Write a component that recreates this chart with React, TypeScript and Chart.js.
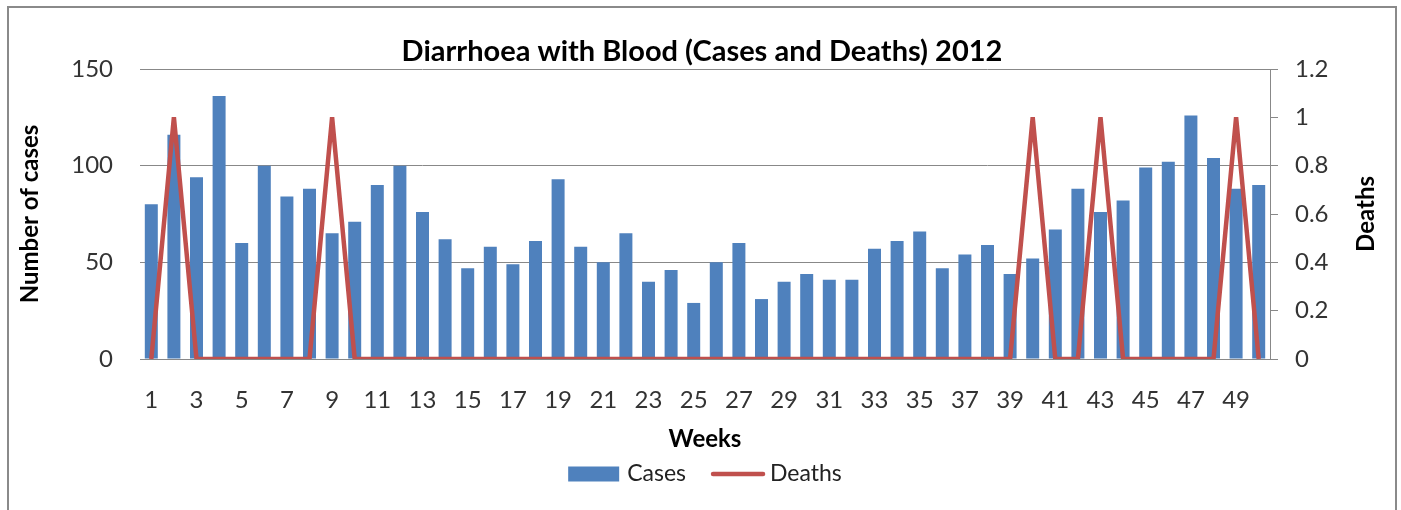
import React, { useEffect, useRef } from "react";
import { Chart, registerables } from "chart.js";

Chart.register(...registerables);

const weeks: string[] = Array.from({ length: 50 }, (_, i) => String(i + 1));

const cases: number[] = [
  80, 116, 94, 136, 60, 100, 84, 88, 65, 71,
  90, 100, 76, 62, 47, 58, 49, 61, 93, 58,
  50, 65, 40, 46, 29, 50, 60, 31, 40, 44,
  41, 41, 57, 61, 66, 47, 54, 59, 44, 52,
  67, 88, 76, 82, 99, 102, 126, 104, 88, 90,
];

const deaths: number[] = [
  0, 1, 0, 0, 0, 0, 0, 0, 1, 0,
  0, 0, 0, 0, 0, 0, 0, 0, 0, 0,
  0, 0, 0, 0, 0, 0, 0, 0, 0, 0,
  0, 0, 0, 0, 0, 0, 0, 0, 0, 1,
  0, 0, 1, 0, 0, 0, 0, 0, 1, 0,
];

const leftTicks = { min: 0, max: 150, step: 50 };
const rightTicks = { min: 0, max: 1.2, step: 0.2 };

const TITLE = "Diarrhoea with Blood (Cases and Deaths) 2012";
const FONT = "Lato, 'Noto Sans', sans-serif";
const BLUE = "#4F81BD";
const RED = "#C0504D";
const GRID = "#888888";
const TICK = "#333333";

const extrasPlugin = {
  id: "extras",
  afterDraw(chart: any) {
    const { ctx, chartArea } = chart;
    ctx.save();
    // right axis title, rotated -90
    ctx.fillStyle = "#000";
    ctx.font = `bold 24px ${FONT}`;
    ctx.textAlign = "center";
    ctx.textBaseline = "middle";
    ctx.translate(1357, (chartArea.top + chartArea.bottom) / 2);
    ctx.rotate(-Math.PI / 2);
    ctx.fillText(chart.data.datasets[1].label, 0, 0);
    ctx.restore();

    // legend
    ctx.save();
    ctx.font = `23px ${FONT}`;
    ctx.textBaseline = "middle";
    ctx.textAlign = "left";
    const l1 = chart.data.datasets[0].label;
    const l2 = chart.data.datasets[1].label;
    const w1 = ctx.measureText(l1).width;
    const w2 = ctx.measureText(l2).width;
    const total = 51 + 8 + w1 + 25 + 54 + 5 + w2;
    const cy = 466;
    let x = (chartArea.left + chartArea.right) / 2 - total / 2;
    ctx.fillStyle = BLUE;
    ctx.fillRect(x, cy - 7.5, 51, 15);
    x += 51 + 8;
    ctx.fillStyle = "#222";
    ctx.fillText(l1, x, cy);
    x += w1 + 25;
    ctx.strokeStyle = RED;
    ctx.lineWidth = 4.5;
    ctx.lineCap = "round";
    ctx.beginPath();
    ctx.moveTo(x + 2, cy);
    ctx.lineTo(x + 52, cy);
    ctx.stroke();
    x += 54 + 5;
    ctx.fillStyle = "#222";
    ctx.fillText(l2, x, cy);
    ctx.restore();
  },
};

export default function App() {
  const ref = useRef<HTMLCanvasElement | null>(null);

  useEffect(() => {
    if (!ref.current) return;
    const chart = new Chart(ref.current, {
      type: "bar",
      data: {
        labels: weeks,
        datasets: [
          {
            type: "bar",
            label: "Cases",
            data: cases,
            backgroundColor: BLUE,
            borderWidth: 0,
            barPercentage: 0.575,
            categoryPercentage: 1,
            yAxisID: "y",
            order: 1,
          },
          {
            type: "line",
            label: "Deaths",
            data: deaths,
            borderColor: RED,
            backgroundColor: RED,
            borderWidth: 4.5,
            pointRadius: 0,
            tension: 0,
            yAxisID: "y1",
            order: 0,
          },
        ],
      } as any,
      options: {
        responsive: false,
        animation: false,
        devicePixelRatio: 1,
        layout: { padding: { left: 0, right: 0, top: 0, bottom: 51 } },
        plugins: {
          legend: { display: false },
          tooltip: { enabled: false },
          title: {
            display: true,
            text: TITLE,
            color: "#000",
            font: { family: FONT, size: 29, weight: "bold" },
            padding: { top: 26.2, bottom: 0 },
          },
        },
        scales: {
          x: {
            grid: { display: false },
            border: { display: false },
            ticks: {
              autoSkip: false,
              maxRotation: 0,
              minRotation: 0,
              padding: 19,
              color: TICK,
              font: { family: FONT, size: 24 },
              callback: (_v: any, i: number) => (i % 2 === 0 ? weeks[i] : ""),
            },
            title: {
              display: true,
              text: "Weeks",
              color: "#000",
              font: { family: FONT, size: 24, weight: "bold" },
              padding: { top: 0, bottom: 5.6 },
            },
            afterFit: (s: any) => {
              s.height = 100;
            },
          },
          y: {
            position: "left",
            min: leftTicks.min,
            max: leftTicks.max,
            grid: { color: GRID, drawTicks: false, lineWidth: 1 },
            border: { display: false },
            ticks: {
              stepSize: leftTicks.step,
              padding: 27,
              color: TICK,
              font: { family: FONT, size: 24 },
            },
            title: {
              display: true,
              text: "Number of cases",
              color: "#000",
              font: { family: FONT, size: 24, weight: "bold" },
              padding: { top: 6.6, bottom: 0 },
            },
            afterFit: (s: any) => {
              s.width = 131;
            },
          },
          y1: {
            position: "right",
            min: rightTicks.min,
            max: rightTicks.max,
            grid: {
              drawOnChartArea: false,
              drawTicks: true,
              tickLength: 8,
              color: GRID,
            },
            border: { display: true, color: GRID },
            ticks: {
              stepSize: rightTicks.step,
              padding: 17,
              color: TICK,
              font: { family: FONT, size: 24 },
              callback: (v: any) => String(Number(Number(v).toFixed(1))),
            },
            title: { display: false },
            afterFit: (s: any) => {
              s.width = 125;
            },
          },
        },
      } as any,
      plugins: [extrasPlugin],
    });
    return () => chart.destroy();
  }, []);

  return (
    <div
      style={{
        position: "absolute",
        left: 7,
        top: 6,
        width: 1390,
        height: 504,
        boxSizing: "border-box",
        border: "2px solid #8a8a8a",
        borderBottom: "none",
        background: "#fff",
        overflow: "hidden",
      }}
    >
      <canvas ref={ref} width={1386} height={502} style={{ display: "block" }} />
    </div>
  );
}
